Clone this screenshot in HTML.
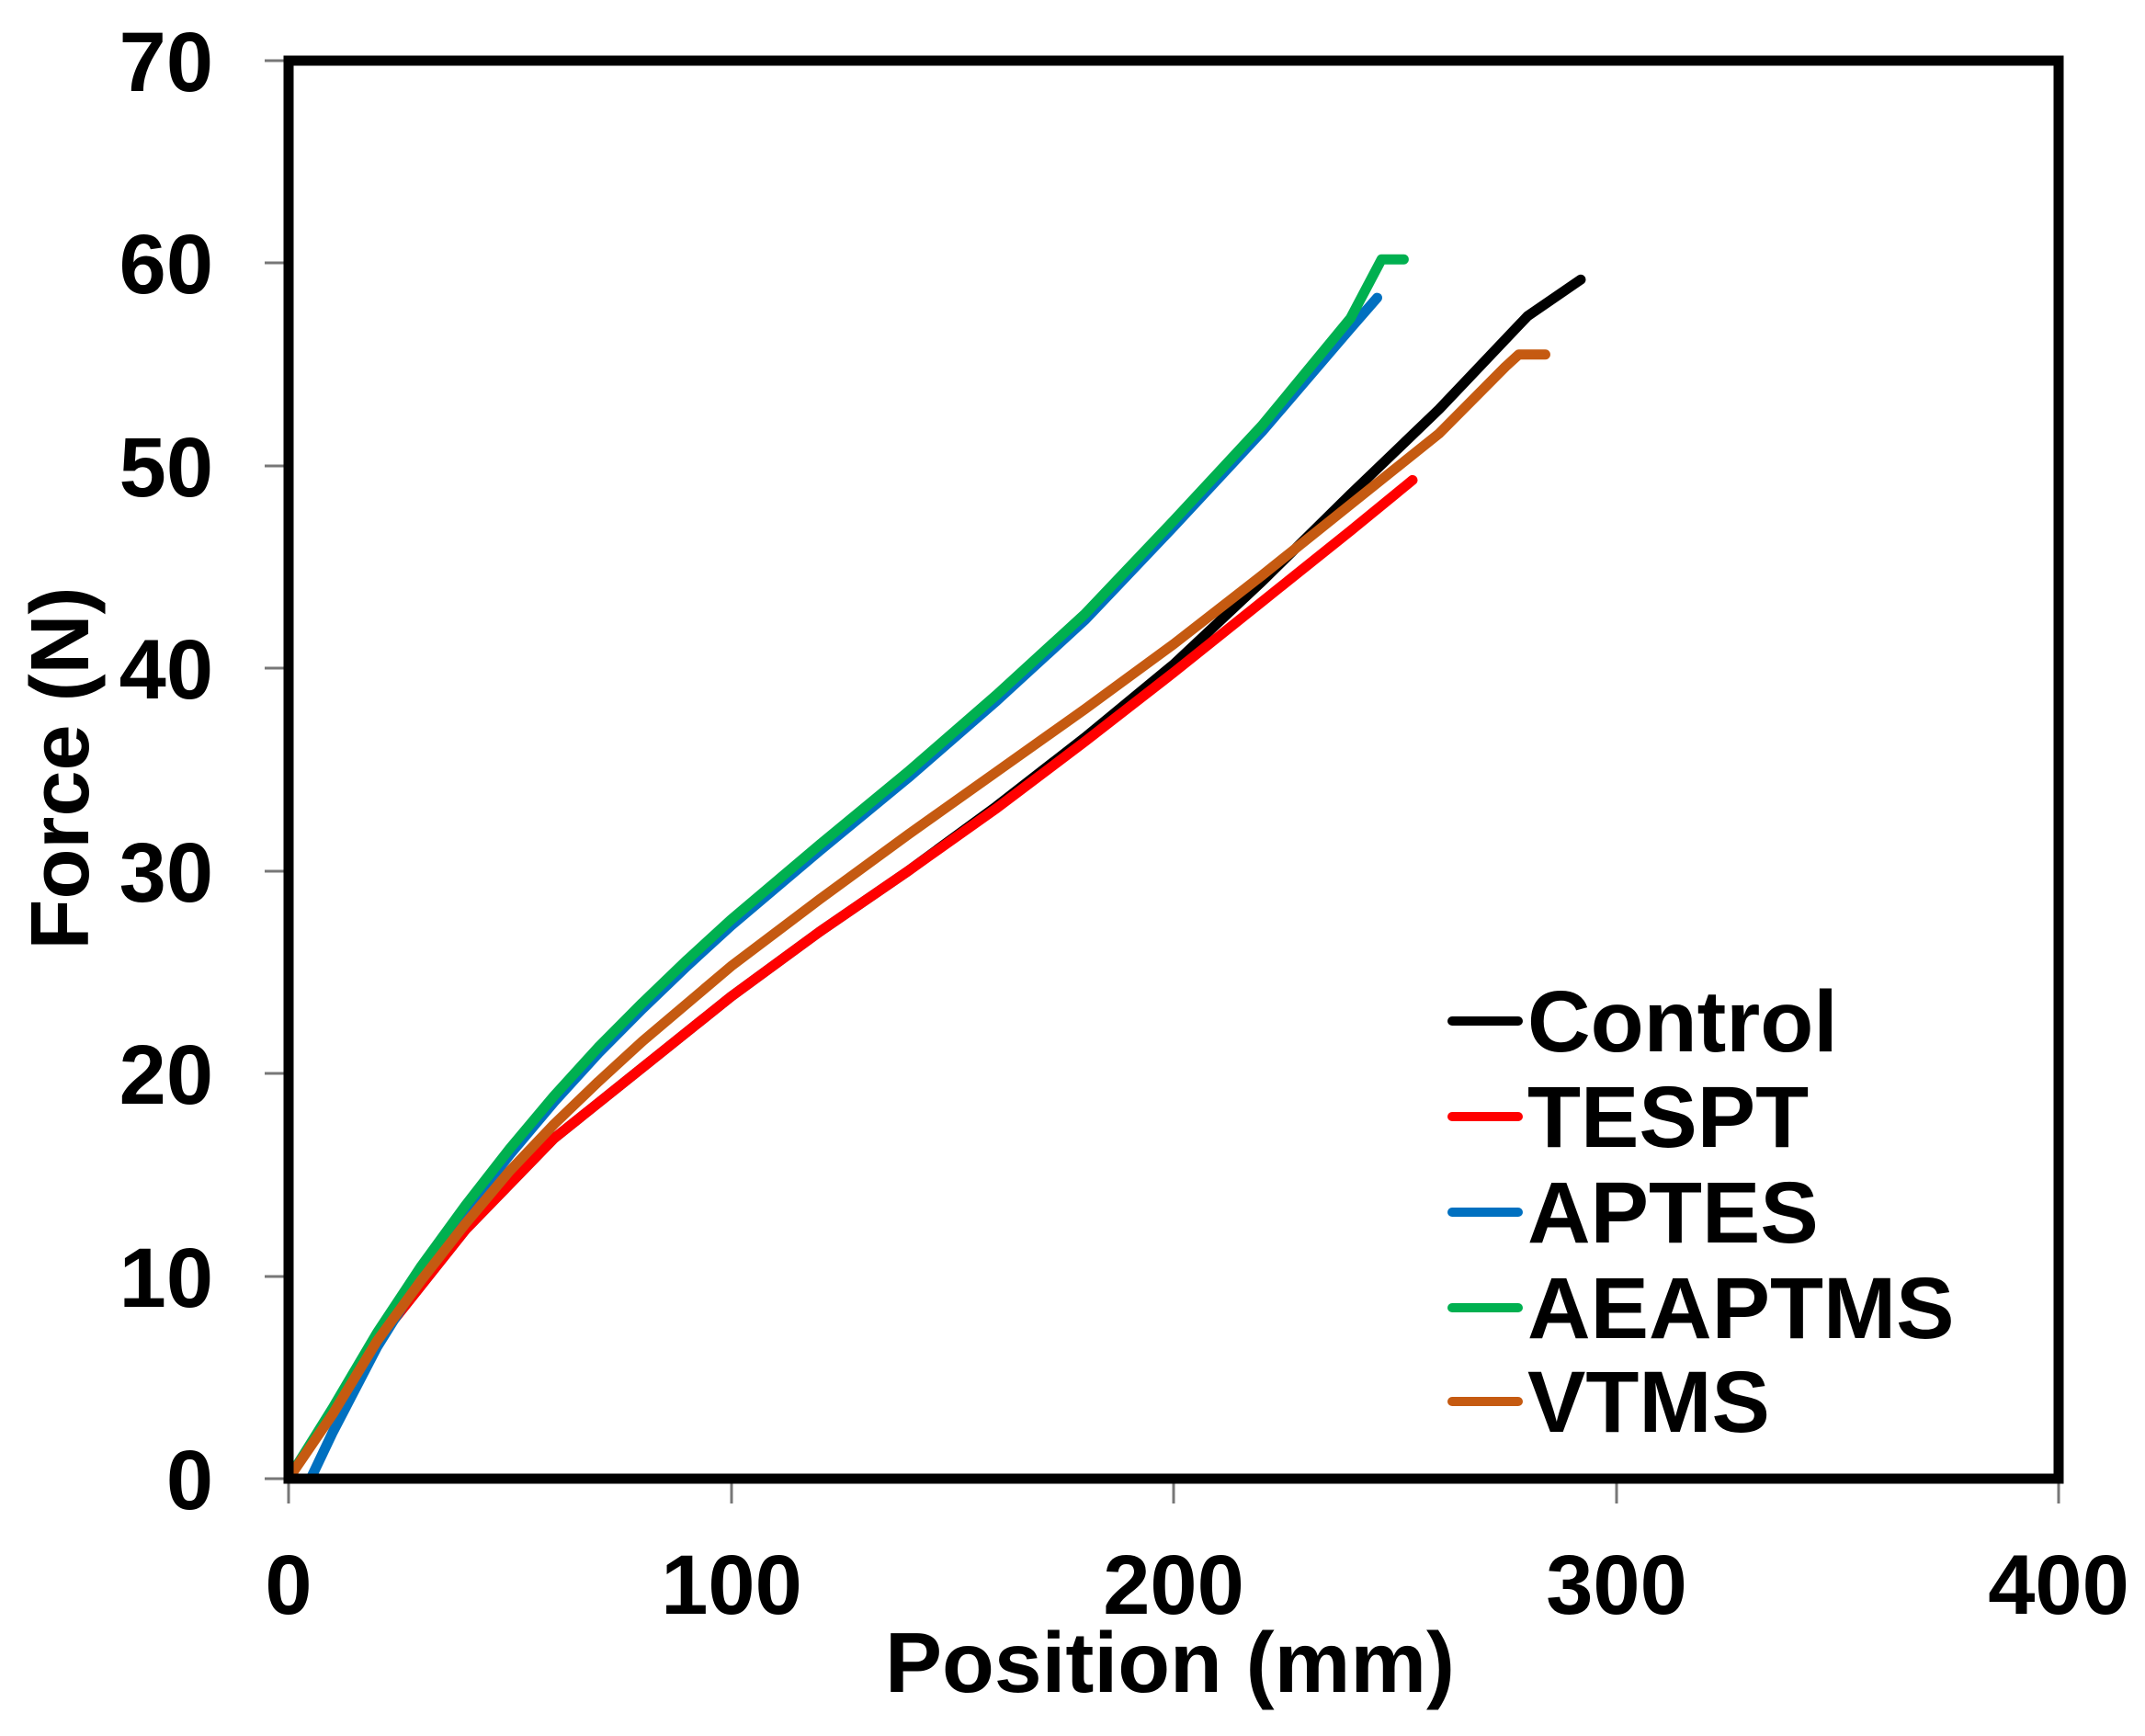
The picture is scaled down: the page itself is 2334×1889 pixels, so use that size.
<!DOCTYPE html>
<html><head><meta charset="utf-8"><style>
html,body{margin:0;padding:0;background:#fff;}
svg{display:block;}
text{font-family:"Liberation Sans",Arial,sans-serif;font-weight:bold;fill:#000;}
</style></head><body>
<svg width="2334" height="1889" viewBox="0 0 2334 1889" xmlns="http://www.w3.org/2000/svg">
<g stroke="#777" stroke-width="3">
<line x1="288" y1="66" x2="314" y2="66"/><line x1="288" y1="286" x2="314" y2="286"/><line x1="288" y1="507" x2="314" y2="507"/><line x1="288" y1="727" x2="314" y2="727"/><line x1="288" y1="948" x2="314" y2="948"/><line x1="288" y1="1168" x2="314" y2="1168"/><line x1="288" y1="1389" x2="314" y2="1389"/><line x1="288" y1="1609" x2="314" y2="1609"/>
<line x1="314" y1="1609" x2="314" y2="1636"/><line x1="796" y1="1609" x2="796" y2="1636"/><line x1="1277" y1="1609" x2="1277" y2="1636"/><line x1="1759" y1="1609" x2="1759" y2="1636"/><line x1="2240" y1="1609" x2="2240" y2="1636"/>
</g>
<g font-size="92" text-anchor="end">
<text x="232" y="99">70</text><text x="232" y="319">60</text><text x="232" y="540">50</text><text x="232" y="760">40</text><text x="232" y="981">30</text><text x="232" y="1201">20</text><text x="232" y="1422">10</text><text x="232" y="1642">0</text>
</g>
<g font-size="92" text-anchor="middle">
<text x="314" y="1756">0</text><text x="796" y="1756">100</text><text x="1277" y="1756">200</text><text x="1759" y="1756">300</text><text x="2240" y="1756">400</text>
</g>
<text x="1273" y="1841" font-size="93" text-anchor="middle">Position (mm)</text>
<text transform="translate(96,836) rotate(-90)" font-size="90" text-anchor="middle">Force (N)</text>
<g transform="translate(314,1609) scale(4.815,-22.04)" fill="none" stroke-width="11" stroke-linejoin="round" stroke-linecap="round">
<polyline vector-effect="non-scaling-stroke" stroke="#000" points="0,0 20,6.8 40,12.3 60,16.8 80,20.3 100,23.8 120,27 140,30 160,33.2 180,36.6 200,40.2 220,44.3 240,48.6 260,52.8 280,57.4 292,59.2"/>
<polyline vector-effect="non-scaling-stroke" stroke="#ff0000" points="0,0 20,6.8 40,12.3 60,16.8 80,20.3 100,23.8 120,27 140,30 160,33.1 180,36.4 200,39.8 220,43.3 240,46.8 254,49.3"/>
<polyline vector-effect="non-scaling-stroke" stroke="#0070c0" points="5,0 10,2.3 20,6.5 30,10 40,13.2 50,16 60,18.6 70,21 80,23.2 90,25.3 100,27.3 120,31 140,34.6 160,38.4 180,42.4 200,47 220,51.7 240,56.8 246,58.3"/>
<polyline vector-effect="non-scaling-stroke" stroke="#00b050" points="0,0 10,3.5 20,7.2 30,10.5 40,13.5 50,16.3 60,18.9 70,21.3 80,23.5 90,25.6 100,27.6 120,31.3 140,34.9 160,38.7 180,42.7 200,47.3 220,52 240,57.3 247,60.2 252,60.2"/>
<polyline vector-effect="non-scaling-stroke" stroke="#c55a11" points="0,0 10,3.2 20,6.8 30,9.8 40,12.6 50,15.2 60,17.5 70,19.6 80,21.6 100,25.3 120,28.6 140,31.8 160,34.9 180,38 200,41.2 220,44.6 240,48.1 260,51.6 275,54.9 278,55.5 284,55.5"/>
</g>
<rect x="314" y="66" width="1926" height="1543" fill="none" stroke="#000" stroke-width="11"/>
<g stroke-width="10" stroke-linecap="round">
<line x1="1580" y1="1111" x2="1652" y2="1111" stroke="#000"/>
<line x1="1580" y1="1215" x2="1652" y2="1215" stroke="#ff0000"/>
<line x1="1580" y1="1319" x2="1652" y2="1319" stroke="#0070c0"/>
<line x1="1580" y1="1423" x2="1652" y2="1423" stroke="#00b050"/>
<line x1="1580" y1="1525" x2="1652" y2="1525" stroke="#c55a11"/>
</g>
<g font-size="95">
<text x="1662" y="1144">Control</text>
<text x="1662" y="1248">TESPT</text>
<text x="1662" y="1352">APTES</text>
<text x="1662" y="1456">AEAPTMS</text>
<text x="1662" y="1558">VTMS</text>
</g>
</svg>
</body></html>
